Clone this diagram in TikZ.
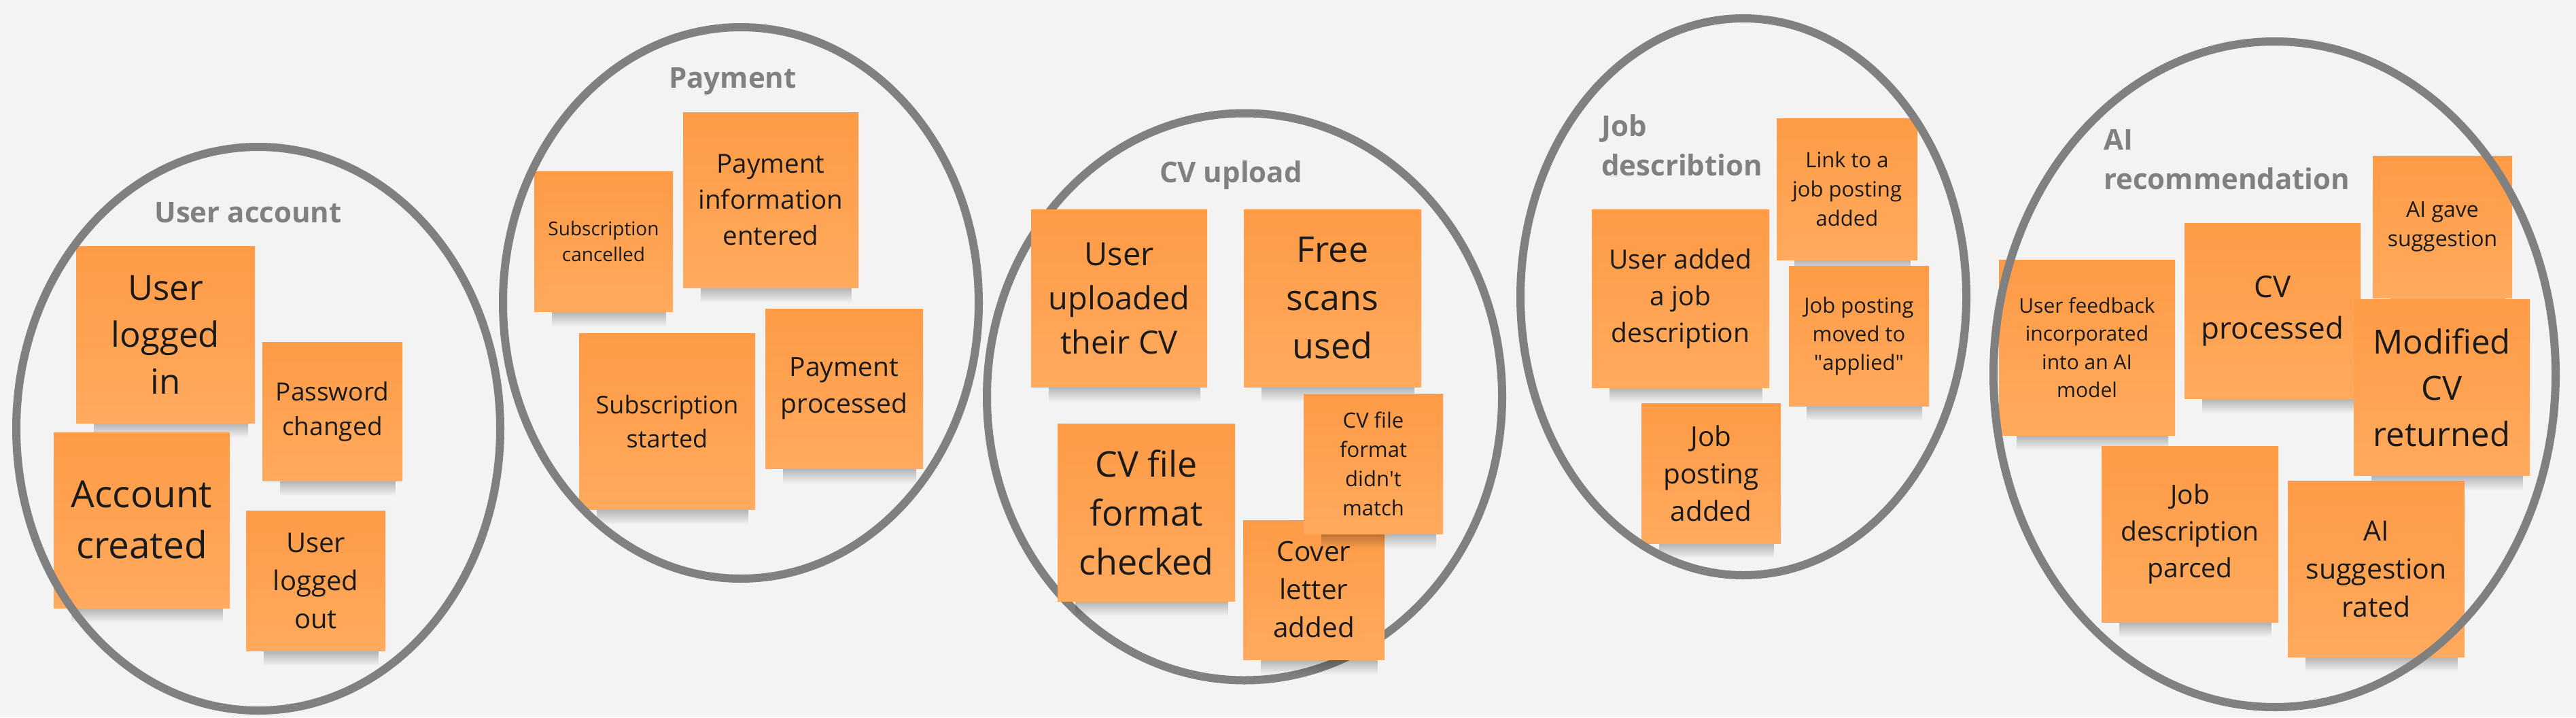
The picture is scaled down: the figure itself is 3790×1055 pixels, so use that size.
\documentclass[tikz,border=0pt]{standalone}
\usepackage{fontspec}
\setmainfont{Open Sans}
\usetikzlibrary{fadings}
\definecolor{bgc}{HTML}{F3F3F3}
\definecolor{ringc}{HTML}{808080}
\definecolor{stA}{HTML}{FE9B46}
\definecolor{stB}{HTML}{FFAA5E}
\definecolor{inkc}{HTML}{1A1A1A}
\tikzfading[name=shfade, top color=transparent!0, bottom color=transparent!100]
\tikzset{
  ring/.style={draw=ringc, line width=12pt},
  sticky/.style={rectangle, inner sep=0pt, align=center, text=inkc, top color=stA, bottom color=stB, draw=none},
  stshadow/.style={fill=black, fill opacity=0.30, path fading=shfade},
  grouptitle/.style={text=ringc, font=\bfseries\fontsize{42}{58}\selectfont, inner sep=0pt},
}
% name, cx, cy, w, h, font size, skip, text
\newcommand\stk[8]{%
  \fill[stshadow] ({#2-#4/2+26},{#3+#5/2-3}) rectangle ({#2+#4/2-10},{#3+#5/2+22});
  \node[sticky, minimum width=#4pt, minimum height=#5pt, font=\fontsize{#6}{#7}\selectfont] (#1) at (#2,#3) {#8};
}
\begin{document}
\begin{tikzpicture}[x=1pt, y=-1pt]
\useasboundingbox (0,0) rectangle (3790,1055);
\fill[bgc] (0,0) rectangle (3790,1055);

% CV upload ring lies behind its notes
\draw[ring] (1831,583.5) ellipse [x radius=379pt, y radius=417pt];

% group titles
\node[grouptitle, anchor=base] (tua) at (365,327) {User account};
\node[grouptitle, anchor=base] (tpay) at (1078,129) {Payment};
\node[grouptitle, anchor=base] (tcv) at (1811,268) {CV upload};
\node[grouptitle, anchor=base west] (tjob1) at (2356,200) {Job};
\node[grouptitle, anchor=base west] (tjob2) at (2356,258) {describtion};
\node[grouptitle, anchor=base west] (tai1) at (3095,220) {AI};
\node[grouptitle, anchor=base west] (tai2) at (3095,278) {recommendation};

% User account
\stk{uli}{243.5}{492}{263}{260}{51}{69}{User\\logged\\in}
\stk{pwc}{489}{605}{206}{204}{37}{51}{Password\\changed}
\stk{acc}{208.5}{765}{259}{258}{55}{75}{Account\\created}
\stk{ulo}{464.5}{854}{205}{206}{40}{56}{User\\logged\\out}

% Payment
\stk{subc}{888}{355}{204}{206}{28}{38}{Subscription\\cancelled}
\stk{pie}{1134}{294}{258}{258}{38.5}{53}{Payment\\information\\entered}
\stk{subs}{981.5}{619.5}{259}{259}{36}{50}{Subscription\\started}
\stk{pp}{1242}{571.5}{232}{235}{39}{54}{Payment\\processed}

% CV upload
\stk{uuc}{1646.5}{438.5}{259}{261}{47}{65}{User\\uploaded\\their CV}
\stk{fsu}{1960.5}{438.5}{261}{261}{52}{71}{Free\\scans\\used}
\stk{cfc}{1686.5}{753.5}{261}{261}{52}{72}{CV file\\format\\checked}
\stk{cla}{1933}{867.5}{208}{205}{40.5}{56}{Cover\\letter\\added}
\stk{cfm}{2020.5}{682}{205}{206}{31}{43}{CV file\\format\\didn\textquotesingle t\\match}

% Job description
\stk{ljp}{2717.5}{278}{207}{208}{31}{43}{Link to a\\job posting\\added}
\stk{uaj}{2472.5}{439}{261}{262}{39}{54}{User added\\a job\\description}
\stk{jpm}{2735}{494}{206}{206}{31}{42}{Job posting\\moved to\\\textquotedbl applied\textquotedbl}
\stk{jpa}{2517.5}{696}{205}{206}{40.5}{55}{Job\\posting\\added}

% AI recommendation
\stk{ufi}{3070.5}{511}{259}{258}{30}{41.5}{User feedback\\incorporated\\into an AI\\model}
\stk{cvp}{3343.5}{457}{259}{258}{44}{61}{CV\\processed}
\stk{aig}{3593.5}{333.5}{205}{209}{32}{43}{AI gave\\suggestion}
\stk{mcr}{3592.5}{569.5}{259}{259}{49}{68}{Modified\\CV\\returned}
\stk{jdp}{3222}{785.5}{260}{259}{39}{54}{Job\\description\\parced}
\stk{asr}{3496}{836.5}{260}{259}{41}{56}{AI\\suggestion\\rated}

% rings drawn over their notes
\draw[ring] (380,630.5) ellipse [x radius=356pt, y radius=414.5pt];
\draw[ring] (1090,445.5) ellipse [x radius=350pt, y radius=405.5pt];
\draw[ring] (2565,436.5) ellipse [x radius=328pt, y radius=409.5pt];
\draw[ring] (3346.5,550.5) ellipse [x radius=413.5pt, y radius=489.5pt];
\end{tikzpicture}
\end{document}
